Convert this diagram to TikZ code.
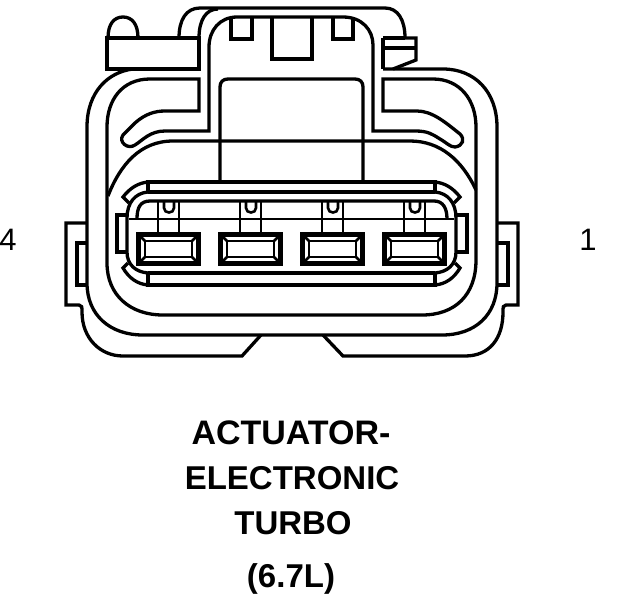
\documentclass[tikz,border=0pt]{standalone}
\usepackage{fontspec}
\setmainfont{Liberation Sans}
\tikzset{
  ln/.style={draw=black,line width=3.3pt,line join=miter},
  thin ln/.style={draw=black,line width=2.6pt},
  title/.style={font=\fontsize{33}{33}\selectfont\bfseries,inner sep=0pt,anchor=center},
  num/.style={font=\fontsize{31}{31}\selectfont,inner sep=0pt,anchor=center}
}
\begin{document}
\begin{tikzpicture}[x=1pt,y=-1pt]
\useasboundingbox (0,0) rectangle (624,600);
\fill[white] (0,0) rectangle (624,600);
% latch left
\draw[ln] (107,38) rectangle (199,69);
\draw[ln] (108,38) .. controls (108,24) and (114,17) .. (123,17) .. controls (132,17) and (138,24) .. (138,38);
% top lines
\draw[ln] (179,38) .. controls (179,20) and (186,8) .. (200,8) -- (385,8) .. controls (398,8) and (405,20) .. (405,38);
\draw[ln] (199,38) .. controls (199,20) and (206,9) .. (218,9);
% inner shroud with left and right fingers
\draw[ln] (199,111) -- (199,79) -- (150,79) .. controls (122,79) and (107,100) .. (107,127) -- (107,263) .. controls (107,295) and (130,315) .. (163,315) -- (422,315) .. controls (455,315) and (476,295) .. (476,260) -- (476,127) .. controls (476,100) and (460,79) .. (433,79) -- (383,79) -- (383,111) -- (417,111) .. controls (432,111) and (445,122) .. (460,134) .. controls (465,139) and (463,146) .. (455,147) .. controls (450,147) and (447,143) .. (440,139) .. controls (432,134) and (428,131) .. (415,131) -- (373,131) -- (373,45) .. controls (373,30) and (362,17) .. (343,17) -- (237,17) .. controls (220,17) and (209,30) .. (209,47) -- (209,131) -- (165,131) .. controls (150,131) and (143,140) .. (135,145) .. controls (128,150) and (118,142) .. (123,135) -- (135,123) .. controls (145,114) and (155,111) .. (165,111) -- cycle;
\draw[ln] (231,17) -- (231,39) -- (252,39) -- (252,17);
\draw[ln] (333,17) -- (333,39) -- (353,39) -- (353,17);
\draw[ln] (272,17) -- (272,59) -- (312,59) -- (312,17);
% latch right
\draw[ln] (405,38) -- (416,38) -- (416,60) -- (393,69);
\draw[ln] (383,38) -- (405,38);
\draw[ln] (383,69) -- (383,38);
\draw[ln] (383,48) -- (416,48);
% outer body
\draw[ln] (133,69) .. controls (108,72) and (87,92) .. (87,127) -- (87,283) .. controls (87,315) and (110,335) .. (143,335) -- (442,335) .. controls (475,335) and (497,315) .. (497,283) -- (497,127) .. controls (497,92) and (475,69) .. (443,69) -- (383,69);
% tabs
\draw[ln] (87,223) -- (66,223) -- (66,305) -- (79,305) .. controls (82,305) and (82,307) .. (82,312) .. controls (82,338) and (100,356) .. (123,356) -- (242,356) -- (261,335);
\draw[ln] (497,223) -- (518,223) -- (518,305) -- (506,305) .. controls (503,305) and (503,307) .. (503,312) .. controls (503,338) and (490,356) .. (465,356) -- (343,356) -- (323,335);
\draw[ln] (87,243) -- (77,243) -- (77,285) -- (88,285);
\draw[ln] (497,243) -- (508,243) -- (508,285) -- (497,285);
% window
\draw[ln] (220,180) -- (220,87) .. controls (220,82) and (223,79) .. (228,79) -- (355,79) .. controls (360,79) and (363,82) .. (363,87) -- (363,180);
\draw[ln] (108,196) .. controls (120,165) and (140,141) .. (173,141) -- (410,141) .. controls (440,141) and (462,160) .. (476,190);
% housing
\draw[ln] (148,192) -- (148,182) -- (435,182) -- (435,192);
\draw[ln] (148,192) -- (435,192);
\draw[ln] (148,273) -- (435,273);
\draw[ln] (148,273) -- (148,285) -- (435,285) -- (435,273);
\draw[ln] (148,182) .. controls (138,183) and (130,188) .. (123,197) -- (129,203);
\draw[ln] (148,192) .. controls (135,193) and (127,203) .. (127,218) -- (127,252) .. controls (127,265) and (136,272) .. (148,273);
\draw[ln] (435,182) .. controls (445,183) and (453,188) .. (460,197) -- (454,203);
\draw[ln] (435,192) .. controls (448,193) and (456,203) .. (456,218) -- (456,252) .. controls (456,265) and (447,272) .. (435,273);
\draw[ln] (148,285) .. controls (137,284) and (129,278) .. (123,268) -- (128,263);
\draw[ln] (435,285) .. controls (446,284) and (454,278) .. (460,268) -- (455,263);
\draw[ln] (137,219) .. controls (137,208) and (140,201) .. (150,201) -- (434,201) .. controls (443,201) and (447,208) .. (447,219);
\draw[thin ln] (129,219) -- (454,219);
\draw[ln] (127,215) -- (117,215) -- (117,252) -- (127,252);
\draw[ln] (456,215) -- (467,215) -- (467,252) -- (456,252);
% pins
\foreach \dx in {0,82,164,246} {
  \begin{scope}[xshift=\dx pt]
    \fill[white] (138,234) rectangle (199,264);
    \draw[draw=black,line width=4.5pt] (138.5,234.5) rectangle (198.5,263.5);
    \draw[thin ln] (145,241) rectangle (192,257);
    \draw[thin ln] (139,235) -- (145,241) (198,235) -- (192,241) (139,263) -- (145,257) (198,263) -- (192,257);
    \draw[thin ln] (158,201) -- (158,233) (179,201) -- (179,233);
    \draw[thin ln] (164,201) -- (164,208) .. controls (164,214) and (174,214) .. (174,208) -- (174,201);
  \end{scope}
}
% labels
\node[num] (n4) at (8,240) {4};
\node[num] (n1) at (588,240) {1};
\node[title,font=\fontsize{34}{34}\selectfont\bfseries] (t1) at (291,433) {ACTUATOR-};
\node[title] (t2) at (292,478) {ELECTRONIC};
\node[title] (t3) at (293,523) {TURBO};
\node[title] (t4) at (291,579) {(6.7L)};
\end{tikzpicture}
\end{document}
